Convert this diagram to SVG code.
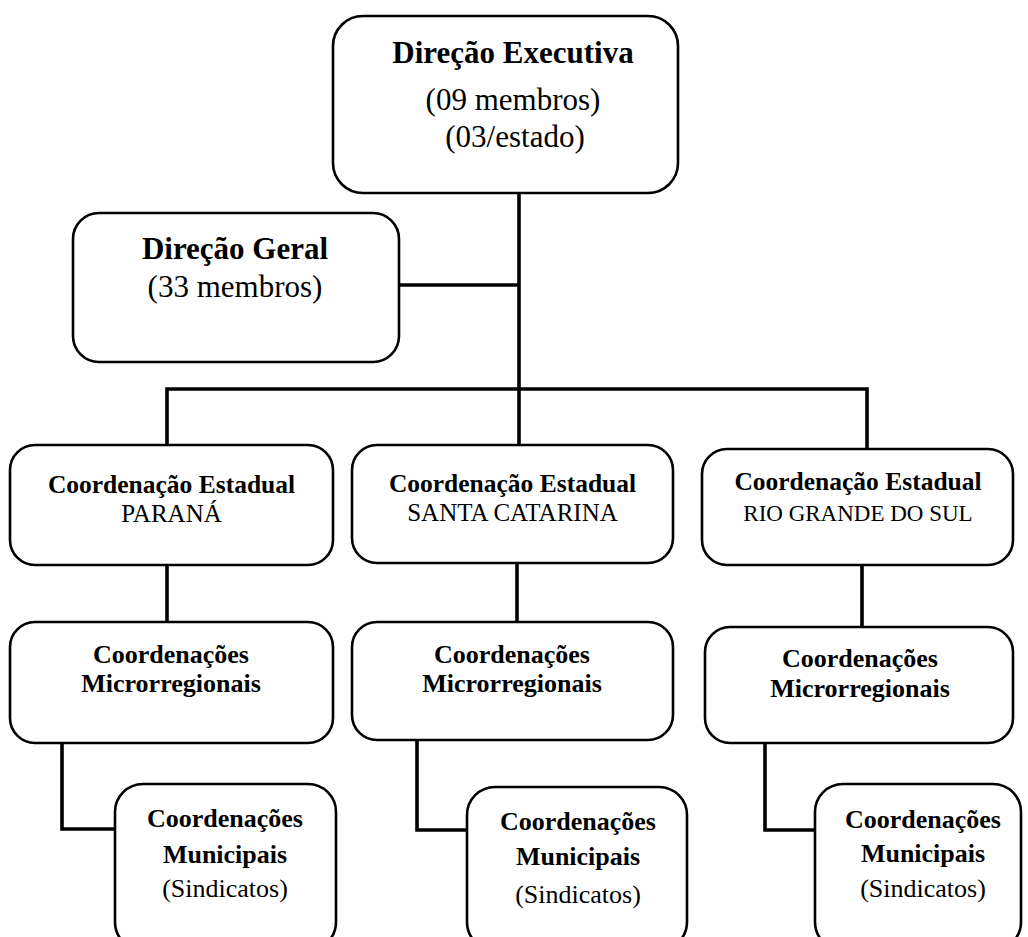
<svg xmlns="http://www.w3.org/2000/svg" width="1028" height="937" viewBox="0 0 1028 937">
<style>
.box{fill:#fff;stroke:#000;stroke-width:2.6}
.con{fill:none;stroke:#000;stroke-width:3.6}
text{font-family:"Liberation Serif","Times New Roman",serif;fill:#000;text-anchor:middle}
.b{font-weight:bold;font-size:26px}
.r{font-size:26px}
.sb{font-weight:bold;font-size:25.5px}
.sr{font-size:25px}
.tb{font-weight:bold;font-size:31px}
.tr{font-size:31px}
.s{font-size:23px}
</style>
<rect width="1028" height="937" fill="#fff"/>
<g id="connectors">
<path class="con" d="M519,193 V445"/>
<path class="con" d="M399,285 H519"/>
<path class="con" d="M167,445 V389 H867 V449"/>
<path class="con" d="M167,565 V622"/>
<path class="con" d="M517,563 V622"/>
<path class="con" d="M862,565 V627"/>
<path class="con" d="M62,743 V829 H115"/>
<path class="con" d="M417,740 V830 H467"/>
<path class="con" d="M765,743 V830 H815"/>
</g>
<g id="direcao-executiva">
<rect class="box" x="333" y="16" width="345" height="177" rx="30"/>
<text class="tb" x="513" y="63">Direção Executiva</text>
<text class="tr" x="513" y="110">(09 membros)</text>
<text class="tr" x="515" y="147">(03/estado)</text>
</g>
<g id="direcao-geral">
<rect class="box" x="73" y="213" width="326" height="149" rx="26"/>
<text class="tb" x="235" y="259">Direção Geral</text>
<text class="tr" x="235" y="297">(33 membros)</text>
</g>
<g id="estadual-pr">
<rect class="box" x="10" y="445" width="323" height="120" rx="25"/>
<text class="sb" x="171.5" y="493">Coordenação Estadual</text>
<text class="sr" x="171.5" y="522">PARANÁ</text>
</g>
<g id="estadual-sc">
<rect class="box" x="352" y="445" width="321" height="118" rx="25"/>
<text class="sb" x="512.5" y="492">Coordenação Estadual</text>
<text class="sr" x="512.5" y="521">SANTA CATARINA</text>
</g>
<g id="estadual-rs">
<rect class="box" x="702" y="449" width="311" height="116" rx="25"/>
<text class="sb" x="858" y="490">Coordenação Estadual</text>
<text class="s" x="858" y="521">RIO GRANDE DO SUL</text>
</g>
<g id="micro-pr">
<rect class="box" x="10" y="622" width="323" height="121" rx="25"/>
<text class="b" x="171" y="663">Coordenações</text>
<text class="b" x="171" y="692">Microrregionais</text>
</g>
<g id="micro-sc">
<rect class="box" x="352" y="622" width="321" height="118" rx="25"/>
<text class="b" x="512" y="663">Coordenações</text>
<text class="b" x="512" y="692">Microrregionais</text>
</g>
<g id="micro-rs">
<rect class="box" x="705" y="627" width="308" height="116" rx="25"/>
<text class="b" x="860" y="667">Coordenações</text>
<text class="b" x="860" y="697">Microrregionais</text>
</g>
<g id="municipal-pr">
<rect class="box" x="115" y="784" width="221" height="166" rx="28"/>
<text class="b" x="225" y="827">Coordenações</text>
<text class="b" x="225" y="863">Municipais</text>
<text class="r" x="225" y="897">(Sindicatos)</text>
</g>
<g id="municipal-sc">
<rect class="box" x="467" y="787" width="220" height="163" rx="28"/>
<text class="b" x="578" y="830">Coordenações</text>
<text class="b" x="578" y="865">Municipais</text>
<text class="r" x="578" y="903">(Sindicatos)</text>
</g>
<g id="municipal-rs">
<rect class="box" x="815" y="784" width="206" height="166" rx="28"/>
<text class="b" x="923" y="828">Coordenações</text>
<text class="b" x="923" y="862">Municipais</text>
<text class="r" x="923" y="897">(Sindicatos)</text>
</g>
</svg>
